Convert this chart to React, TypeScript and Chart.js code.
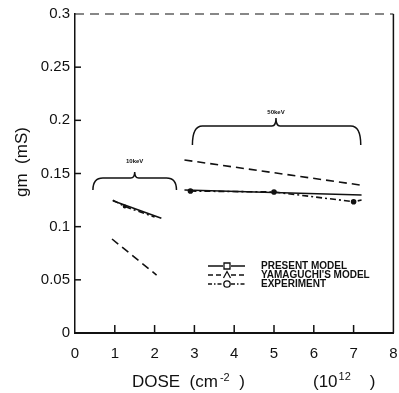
import React, { useEffect, useRef } from "react";
import { Chart, registerables } from "chart.js";

Chart.register(...registerables);

// ---- data ----
const xTicks = [0, 1, 2, 3, 4, 5, 6, 7, 8];
const yTicks = [0, 0.05, 0.1, 0.15, 0.2, 0.25, 0.3];
const yTickLabels = ["0", "0.05", "0.1", "0.15", "0.2", "0.25", "0.3"];

const present10Dose = [0.95, 2.17];
const present10Gm = [0.1244, 0.108];
const yamaguchi10Dose = [0.93, 2.05];
const yamaguchi10Gm = [0.0884, 0.0545];
const experiment10Dose = [0.95, 1.25, 2.0];
const experiment10Gm = [0.125, 0.119, 0.109];

const present50Dose = [2.75, 7.2];
const present50Gm = [0.1345, 0.1298];
const yamaguchi50Dose = [2.75, 7.2];
const yamaguchi50Gm = [0.1627, 0.139];
const experiment50Dose = [2.9, 5, 7, 7.2];
const experiment50Gm = [0.1335, 0.1326, 0.1235, 0.125];

const legendLabels = ["PRESENT MODEL", "YAMAGUCHI'S MODEL", "EXPERIMENT"];

// braces
const braceLabels = ["10keV", "50keV"];
const braceXStart = [0.45, 2.95];
const braceXEnd = [2.55, 7.18];
const braceXCusp = [1.5, 5.05];
const braceYEnds = [0.1345, 0.1768];
const braceYFlat = [0.1458, 0.1947];
const braceYCusp = [0.1514, 0.2022];
const braceYLabel = [0.161, 0.2078];

const INK = "#111";
const FAM = "'Liberation Sans', Arial, sans-serif";

function pts(xs: number[], ys: number[]) {
  return xs.map((x, i) => ({ x, y: ys[i] }));
}

const dashY = [8, 5];
const dashE = [6, 3, 2, 3];

export default function App() {
  const ref = useRef<HTMLCanvasElement | null>(null);

  useEffect(() => {
    document.body.style.margin = "0";
    const canvas = ref.current!;
    const decor = {
      id: "decor",
      afterDraw(chart: any) {
        const ctx = chart.ctx as CanvasRenderingContext2D;
        const xs = chart.scales.x;
        const ys = chart.scales.y;
        const ca = chart.chartArea;
        ctx.save();
        ctx.strokeStyle = INK;
        ctx.fillStyle = INK;
        // right border
        ctx.lineWidth = 1.5;
        ctx.beginPath();
        ctx.moveTo(ca.right, ca.top);
        ctx.lineTo(ca.right, ca.bottom);
        ctx.stroke();
        // top border dashed
        ctx.setLineDash([9, 6]);
        ctx.lineWidth = 1.2;
        ctx.beginPath();
        ctx.moveTo(ca.left, ca.top);
        ctx.lineTo(ca.right, ca.top);
        ctx.stroke();
        ctx.setLineDash([]);
        // inward ticks
        ctx.lineWidth = 1.5;
        xTicks.forEach((v) => {
          if (v === 0 || v === 8) return;
          const px = xs.getPixelForValue(v);
          ctx.beginPath();
          ctx.moveTo(px, ca.bottom);
          ctx.lineTo(px, ca.bottom - 8);
          ctx.stroke();
        });
        yTicks.forEach((v) => {
          if (v === 0 || v === 0.3) return;
          const py = ys.getPixelForValue(v);
          ctx.beginPath();
          ctx.moveTo(ca.left, py);
          ctx.lineTo(ca.left + 6, py);
          ctx.stroke();
        });
        // braces
        ctx.lineWidth = 1.5;
        braceLabels.forEach((lab, i) => {
          const x0 = xs.getPixelForValue(braceXStart[i]);
          const x1 = xs.getPixelForValue(braceXEnd[i]);
          const xc = xs.getPixelForValue(braceXCusp[i]);
          const ye = ys.getPixelForValue(braceYEnds[i]);
          const yf = ys.getPixelForValue(braceYFlat[i]);
          const yc = ys.getPixelForValue(braceYCusp[i]);
          const r = 10;
          ctx.beginPath();
          ctx.moveTo(x0, ye);
          ctx.quadraticCurveTo(x0, yf, x0 + r, yf);
          ctx.lineTo(xc - 4, yf);
          ctx.quadraticCurveTo(xc, yf, xc, yc);
          ctx.quadraticCurveTo(xc, yf, xc + 4, yf);
          ctx.lineTo(x1 - r, yf);
          ctx.quadraticCurveTo(x1, yf, x1, ye);
          ctx.stroke();
          ctx.font = "bold 6px " + FAM;
          ctx.textAlign = "center";
          ctx.textBaseline = "middle";
          ctx.fillText(lab, xc, ys.getPixelForValue(braceYLabel[i]));
        });
        // legend
        const lx0 = 208, lx1 = 245, lm = 227, lt = 261;
        const rows = [266, 275, 284];
        const dashes = [[], [5, 3], [4, 2, 1.5, 2]];
        rows.forEach((ry, i) => {
          ctx.lineWidth = 1.3;
          ctx.setLineDash(dashes[i]);
          ctx.beginPath();
          ctx.moveTo(lx0, ry);
          ctx.lineTo(lm - 4, ry);
          ctx.moveTo(lm + 4, ry);
          ctx.lineTo(lx1, ry);
          ctx.stroke();
          ctx.setLineDash([]);
          ctx.beginPath();
          if (i === 0) {
            ctx.rect(lm - 3, ry - 3, 6, 6);
          } else if (i === 1) {
            ctx.moveTo(lm - 3.5, ry + 3);
            ctx.lineTo(lm, ry - 3.5);
            ctx.lineTo(lm + 3.5, ry + 3);
          } else {
            ctx.arc(lm, ry, 3.2, 0, Math.PI * 2);
          }
          ctx.stroke();
          ctx.font = "bold 10px " + FAM;
          ctx.textAlign = "left";
          ctx.textBaseline = "middle";
          ctx.fillText(legendLabels[i], lt, ry);
        });
        // axis titles
        ctx.font = "17px " + FAM;
        ctx.textBaseline = "alphabetic";
        ctx.textAlign = "left";
        let x = 132;
        const by = 387;
        ctx.fillText("DOSE  (cm", x, by);
        x += ctx.measureText("DOSE  (cm").width + 2;
        ctx.font = "11px " + FAM;
        ctx.fillText("-2", x, by - 6);
        x += ctx.measureText("-2").width;
        ctx.font = "17px " + FAM;
        ctx.fillText("  )", x, by);
        x = 313;
        ctx.fillText("(10", x, by);
        x += ctx.measureText("(10").width + 1;
        ctx.font = "11px " + FAM;
        ctx.fillText("12", x, by - 7);
        x += ctx.measureText("12").width;
        ctx.font = "17px " + FAM;
        ctx.fillText("    )", x, by);
        // y title
        ctx.save();
        ctx.translate(22, 162);
        ctx.rotate(-Math.PI / 2);
        ctx.textAlign = "center";
        ctx.textBaseline = "middle";
        ctx.font = "17px " + FAM;
        ctx.fillText("gm  (mS)", 0, 0);
        ctx.restore();
        ctx.restore();
      },
    };

    const line = (data: any[], dash: number[], pr: any = 0) => ({
      data,
      borderColor: INK,
      backgroundColor: INK,
      borderWidth: 1.6,
      borderDash: dash,
      pointRadius: pr,
      fill: false,
      tension: 0,
    });

    const chart = new Chart(canvas, {
      type: "line",
      data: {
        datasets: [
          line(pts(present10Dose, present10Gm), []),
          line(pts(yamaguchi10Dose, yamaguchi10Gm), dashY),
          line(pts(experiment10Dose, experiment10Gm), dashE, [0, 1.2, 0]),
          line(pts(present50Dose, present50Gm), []),
          line(pts(yamaguchi50Dose, yamaguchi50Gm), dashY),
          line(pts(experiment50Dose, experiment50Gm), dashE, [2, 2, 2, 0]),
        ] as any,
      },
      options: {
        animation: false,
        responsive: false,
        parsing: false as any,
        layout: { padding: { top: 14, right: 5, left: 0, bottom: 0 } },
        plugins: { legend: { display: false }, tooltip: { enabled: false } },
        scales: {
          x: {
            type: "linear",
            min: 0,
            max: 8,
            afterBuildTicks: (s: any) => {
              s.ticks = xTicks.map((v) => ({ value: v }));
            },
            afterFit: (s: any) => {
              s.height = 60;
              s.paddingRight = 0;
              s.paddingLeft = 0;
            },
            grid: { display: false, drawTicks: false },
            border: { display: true, color: INK, width: 2 },
            ticks: {
              padding: 12,
              color: INK,
              font: { size: 15, family: FAM },
              callback: (v: any) => String(v),
            },
          },
          y: {
            type: "linear",
            min: 0,
            max: 0.3,
            afterBuildTicks: (s: any) => {
              s.ticks = yTicks.map((v) => ({ value: v }));
            },
            afterFit: (s: any) => {
              s.width = 75;
            },
            grid: { display: false, drawTicks: false },
            border: { display: true, color: INK, width: 1.5, dash: [10, 2] },
            ticks: {
              padding: 5,
              color: INK,
              font: { size: 15, family: FAM },
              callback: (v: any) => {
                const i = yTicks.findIndex((t) => Math.abs(t - v) < 1e-9);
                return i >= 0 ? yTickLabels[i] : "";
              },
            },
          },
        },
      },
      plugins: [decor],
    });
    return () => chart.destroy();
  }, []);

  return <canvas ref={ref} width={399} height={393} style={{ display: "block" }} />;
}
